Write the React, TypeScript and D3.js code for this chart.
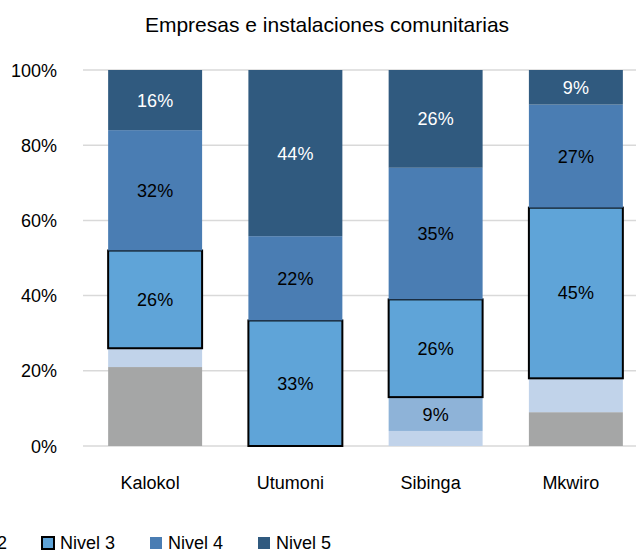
import React from "react";
import * as d3 from "d3";

const categories = ["Kalokol", "Utumoni", "Sibinga", "Mkwiro"];
const seriesNames = ["Nivel 0", "Nivel 1", "Nivel 2", "Nivel 3", "Nivel 4", "Nivel 5"];
const nivel0 = [21, 0, 0, 9];
const nivel1 = [5, 0, 4, 9];
const nivel2 = [0, 0, 9, 0];
const nivel3 = [26, 33.4, 26, 45.4];
const nivel4 = [32, 22.4, 35, 27.4];
const nivel5 = [16, 44.2, 26, 9.2];
const yTicks = [0, 20, 40, 60, 80, 100];

const colors = ["#a5a6a6", "#c1d3ea", "#8eb3d8", "#5fa4d8", "#4a7db3", "#305a7f"];
const labelColors = ["#000", "#000", "#000", "#000", "#000", "#fff"];
const labeled = [false, false, true, true, true, true];
const bordered = [false, false, false, true, false, false];

const W = 636;
const H = 550;
const FONT = "'Liberation Sans', Arial, sans-serif";

export default function App() {
  const series = [nivel0, nivel1, nivel2, nivel3, nivel4, nivel5];
  const rows = categories.map((c, i) => {
    const r: any = { cat: c };
    seriesNames.forEach((s, k) => (r[s] = series[k][i]));
    return r;
  });
  const stacked = d3.stack().keys(seriesNames)(rows);

  const x = d3.scaleBand().domain(categories).range([85, 646]).paddingInner(0.33).paddingOuter(0.165);
  const y = d3.scaleLinear().domain([0, 100]).range([446, 70]);

  const legendX0 = 42 - 3 * 108;

  return (
    <svg width={W} height={H} style={{ position: "absolute", left: 0, top: 0, fontFamily: FONT }}>
      <rect width={W} height={H} fill="#fff" />
      <text x={327} y={32} textAnchor="middle" fontSize={21} fill="#000">
        Empresas e instalaciones comunitarias
      </text>
      {yTicks.map((t) => (
        <g key={t}>
          <line x1={83} x2={W} y1={y(t)} y2={y(t)} stroke="#d9d9d9" strokeWidth={1.5} />
          <text x={57} y={y(t) + 6.5} textAnchor="end" fontSize={18} fill="#000">
            {t}%
          </text>
        </g>
      ))}
      {stacked.map((s, k) => (
        <g key={s.key}>
          {s.map((d, i) => {
            const v = d[1] - d[0];
            if (v <= 0) return null;
            const bx = x(categories[i])!;
            const bw = x.bandwidth();
            const y0 = y(d[1]);
            const h = y(d[0]) - y(d[1]);
            return (
              <g key={i}>
                <rect
                  x={bx}
                  y={y0}
                  width={bw}
                  height={h}
                  fill={colors[k]}
                  stroke={bordered[k] ? "#000" : "none"}
                  strokeWidth={bordered[k] ? 2 : 0}
                />
                {labeled[k] && (
                  <text
                    x={bx + bw / 2}
                    y={y0 + h / 2 + 6.5}
                    textAnchor="middle"
                    fontSize={18}
                    fill={labelColors[k]}
                  >
                    {Math.round(v)}%
                  </text>
                )}
              </g>
            );
          })}
        </g>
      ))}
      {categories.map((c) => (
        <text key={c} x={x(c)! + x.bandwidth() / 2 - 5} y={489} textAnchor="middle" fontSize={18} fill="#000">
          {c}
        </text>
      ))}
      {seriesNames.map((s, k) => {
        const lx = legendX0 + k * 108;
        return (
          <g key={s}>
            <rect
              x={lx}
              y={537}
              width={12}
              height={12}
              fill={colors[k]}
              stroke={bordered[k] ? "#000" : "none"}
              strokeWidth={bordered[k] ? 2 : 0}
            />
            <text x={lx + 18} y={549} fontSize={18} fill="#000">
              {s}
            </text>
          </g>
        );
      })}
    </svg>
  );
}
